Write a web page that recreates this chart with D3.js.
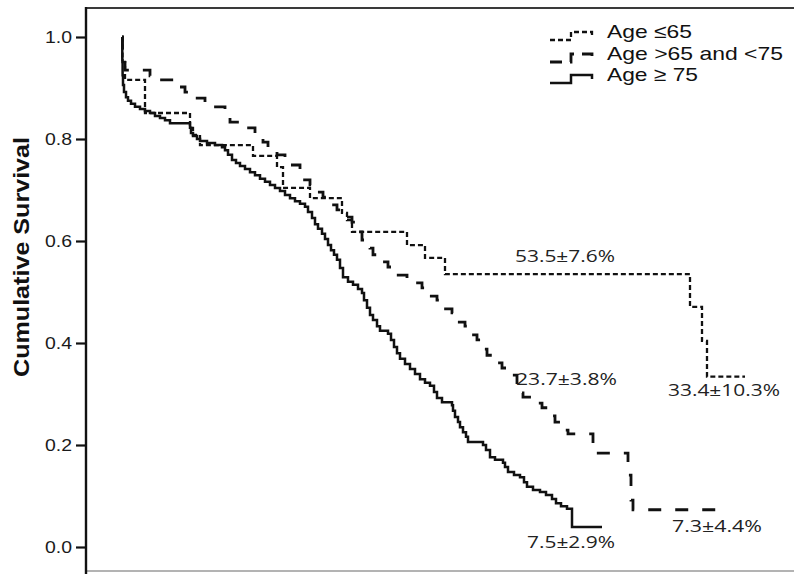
<!DOCTYPE html>
<html>
<head>
<meta charset="utf-8">
<script src="https://cdn.jsdelivr.net/npm/d3@7"></script>
<style>
  html, body { margin: 0; padding: 0; background: #fff; }
  svg { display: block; }
</style>
</head>
<body>
<svg id="chart" width="794" height="574"></svg>
<script>
// Kaplan-Meier survival by age group: [time, survival] step points
const ageLe65 = [
  [0, 1.000], [0.1, 0.951], [0.6, 0.916], [4.6, 0.851], [13.6, 0.822], [14.2, 0.808],
  [15.6, 0.788], [26.2, 0.767], [31.0, 0.745], [32.2, 0.704], [37.6, 0.684],
  [44.0, 0.655], [45.0, 0.641], [46.0, 0.618], [57.0, 0.592], [60.6, 0.567],
  [64.6, 0.535], [113.6, 0.471], [116.0, 0.404], [117.0, 0.334]
];
const ageLe65End = 124.6;

const age65to75 = [
  [0, 1.000], [0.1, 0.955], [0.6, 0.935], [5.6, 0.924], [7.6, 0.916], [11.0, 0.902],
  [12.6, 0.892], [14.6, 0.880], [16.6, 0.871], [18.2, 0.863], [20.6, 0.847],
  [21.6, 0.833], [24.6, 0.822], [26.6, 0.808], [28.2, 0.794], [29.2, 0.784],
  [31.0, 0.769], [32.6, 0.759], [33.6, 0.749], [35.6, 0.735], [36.2, 0.720],
  [37.6, 0.710], [38.6, 0.696], [40.2, 0.686], [41.6, 0.671], [43.0, 0.661],
  [44.6, 0.647], [46.0, 0.637], [47.0, 0.618], [48.0, 0.602], [49.6, 0.586],
  [50.2, 0.573], [52.0, 0.559], [53.2, 0.549], [54.6, 0.533], [57.0, 0.525],
  [58.6, 0.518], [60.0, 0.508], [61.0, 0.492], [63.0, 0.484], [64.0, 0.467],
  [66.0, 0.459], [66.6, 0.441], [68.6, 0.433], [69.6, 0.416], [71.0, 0.406],
  [72.0, 0.388], [73.0, 0.376], [74.2, 0.361], [76.0, 0.351], [78.0, 0.337],
  [79.0, 0.302], [80.2, 0.294], [83.0, 0.282], [84.0, 0.273], [85.6, 0.257],
  [86.6, 0.245], [87.6, 0.237], [88.2, 0.229], [89.2, 0.222], [94.2, 0.184],
  [101.2, 0.141], [101.8, 0.092], [102.2, 0.073]
];
const age65to75End = 121.0;

const ageGe75 = [
  [0, 1.000], [0.06, 0.955], [0.12, 0.925], [0.2, 0.906], [0.4, 0.892], [0.8, 0.882],
  [1.2, 0.875], [1.8, 0.869], [2.6, 0.863], [3.6, 0.859], [4.6, 0.855], [5.6, 0.851],
  [6.6, 0.845], [7.6, 0.841], [8.6, 0.837], [9.6, 0.831], [13.6, 0.822], [13.8, 0.812],
  [14.2, 0.806], [15.0, 0.800], [15.6, 0.796], [17.0, 0.792], [18.6, 0.788],
  [20.0, 0.784], [20.6, 0.778], [21.2, 0.769], [22.0, 0.759], [22.8, 0.753],
  [23.6, 0.747], [24.6, 0.741], [25.6, 0.735], [26.6, 0.729], [27.6, 0.722],
  [28.6, 0.716], [29.6, 0.710], [30.6, 0.704], [31.6, 0.698], [32.6, 0.690],
  [33.6, 0.684], [34.6, 0.678], [35.6, 0.673], [36.6, 0.667], [37.2, 0.657],
  [38.0, 0.645], [38.6, 0.633], [39.2, 0.624], [40.0, 0.614], [40.6, 0.604],
  [41.2, 0.592], [41.8, 0.582], [42.4, 0.573], [43.0, 0.563], [43.6, 0.547],
  [44.2, 0.529], [45.2, 0.520], [46.2, 0.514], [47.2, 0.506], [48.0, 0.498],
  [48.4, 0.484], [49.0, 0.469], [49.6, 0.455], [50.2, 0.445], [51.0, 0.433],
  [51.6, 0.424], [53.2, 0.418], [53.8, 0.406], [54.4, 0.392], [55.0, 0.380],
  [55.6, 0.369], [56.6, 0.359], [57.6, 0.349], [58.6, 0.339], [59.6, 0.329],
  [60.6, 0.322], [61.6, 0.316], [62.4, 0.304], [63.0, 0.292], [64.0, 0.284],
  [66.0, 0.278], [66.2, 0.267], [66.6, 0.255], [67.2, 0.245], [67.6, 0.235],
  [68.2, 0.225], [68.8, 0.216], [69.2, 0.206], [72.2, 0.200], [72.8, 0.190],
  [73.6, 0.176], [74.6, 0.171], [76.2, 0.165], [76.6, 0.157], [77.2, 0.147],
  [78.4, 0.141], [79.6, 0.137], [80.4, 0.127], [81.0, 0.118], [82.2, 0.112],
  [83.6, 0.108], [84.8, 0.102], [86.0, 0.094], [86.8, 0.086], [87.8, 0.080],
  [89.0, 0.075], [90.0, 0.039]
];
const ageGe75End = 96.0;

const seriesNames = ["Age \u226465", "Age >65 and <75", "Age \u2265 75"];
const yTicks = [0.0, 0.2, 0.4, 0.6, 0.8, 1.0];

// Survival estimates with standard error, per series
const estPct = [53.5, 33.4, 23.7, 7.3, 7.5];
const estSe = [7.6, 10.3, 3.8, 4.4, 2.9];
const estTime = [78.6, 109.2, 78.8, 110.0, 81.0];

const svg = d3.select("#chart");
const W = 794, H = 574;

const x = d3.scaleLinear().domain([0, 132]).range([122, 782]);
const y = d3.scaleLinear().domain([0, 1]).range([547, 37]);

const frameLeft = 86, frameTop = 8, frameBottom = 571;

// frame
svg.append("line").attr("x1", frameLeft).attr("x2", W + 2).attr("y1", frameTop).attr("y2", frameTop)
  .attr("stroke", "#3a3a3a").attr("stroke-width", 2);
svg.append("line").attr("x1", frameLeft).attr("x2", W + 2).attr("y1", frameBottom).attr("y2", frameBottom)
  .attr("stroke", "#9a9a9a").attr("stroke-width", 1.5);
svg.append("line").attr("x1", frameLeft).attr("x2", frameLeft).attr("y1", frameTop - 1).attr("y2", H)
  .attr("stroke", "#111").attr("stroke-width", 2.4);

// y axis
const yAxis = svg.append("g")
  .attr("transform", `translate(${frameLeft},0)`)
  .call(d3.axisLeft(y).tickValues(yTicks).tickFormat(d3.format(".1f")).tickSize(10).tickPadding(4));
yAxis.select(".domain").remove();
yAxis.selectAll(".tick line").attr("stroke", "#111").attr("stroke-width", 2.2);
yAxis.selectAll(".tick text")
  .attr("fill", "#1a1a1a")
  .style("font-family", "'Liberation Sans', Arial, sans-serif")
  .style("font-size", "16px")
  .attr("textLength", 27).attr("lengthAdjust", "spacingAndGlyphs");

// y axis title
svg.append("text")
  .attr("transform", "translate(29,257) rotate(-90)")
  .attr("text-anchor", "middle")
  .style("font-family", "'Liberation Sans', Arial, sans-serif")
  .style("font-size", "22px").style("font-weight", "bold")
  .attr("fill", "#111")
  .attr("textLength", 240).attr("lengthAdjust", "spacingAndGlyphs")
  .text("Cumulative Survival");

// survival curves
const styles = [
  { dash: "5,3", width: 2.3 },
  { dash: "13,14", width: 2.8 },
  { dash: null, width: 2.5 }
];
const curves = [
  { pts: ageLe65, end: ageLe65End },
  { pts: age65to75, end: age65to75End },
  { pts: ageGe75, end: ageGe75End }
];
const line = d3.line().x(d => x(d[0])).y(d => y(d[1])).curve(d3.curveStepAfter);

curves.forEach((c, i) => {
  const data = c.pts.concat([[c.end, c.pts[c.pts.length - 1][1]]]);
  svg.append("path")
    .datum(data)
    .attr("d", line)
    .attr("fill", "none")
    .attr("stroke", "#111")
    .attr("stroke-width", styles[i].width)
    .attr("stroke-dasharray", styles[i].dash);
});

// legend
const legendX = 550, legendTextX = 607;
const legendBaselines = [38, 60, 81];
seriesNames.forEach((name, i) => {
  const b = legendBaselines[i];
  const p = d3.path();
  p.moveTo(legendX, b + 2);
  p.lineTo(legendX + 21, b + 2);
  p.lineTo(legendX + 21, b - 6);
  p.lineTo(legendX + 42, b - 6);
  p.lineTo(legendX + 42, b - 2);
  svg.append("path")
    .attr("d", p.toString())
    .attr("fill", "none")
    .attr("stroke", "#111")
    .attr("stroke-width", styles[i].width)
    .attr("stroke-dasharray", i === 1 ? "12,8" : styles[i].dash);
});
const legendWidths = [85, 176, 91];
svg.selectAll("text.legend")
  .data(seriesNames)
  .join("text")
  .attr("class", "legend")
  .attr("x", legendTextX)
  .attr("y", (d, i) => legendBaselines[i])
  .attr("textLength", (d, i) => legendWidths[i])
  .attr("lengthAdjust", "spacingAndGlyphs")
  .style("font-family", "'Liberation Sans', Arial, sans-serif")
  .style("font-size", "19px")
  .attr("fill", "#111")
  .text(d => d);

// estimate labels
const estDy = [-12, 19, -41, 22, 39];
const estWidths = [100, 112, 101, 90, 88];
estPct.forEach((pct, i) => {
  const v = pct / 100;
  svg.append("text")
    .attr("x", x(estTime[i]))
    .attr("y", y(v) + estDy[i])
    .attr("textLength", estWidths[i])
    .attr("lengthAdjust", "spacingAndGlyphs")
    .style("font-family", "'Open Sans', 'Noto Sans', sans-serif")
    .style("font-size", "17px")
    .attr("fill", "#222")
    .text(`${pct.toFixed(1)}\u00b1${estSe[i].toFixed(1)}%`);
});
</script>
</body>
</html>
